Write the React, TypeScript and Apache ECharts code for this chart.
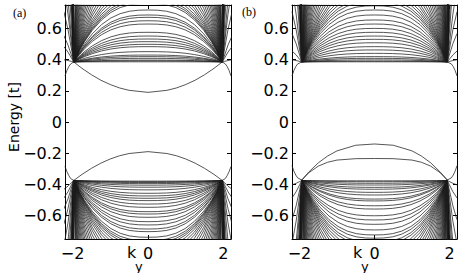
import React, { useEffect, useRef } from "react";
import * as echarts from "echarts";

// ---- axes ----
const xRange = [-2.2, 2.2];
const yRange = [-0.75, 0.75];
const xTicks = [-2, 0, 2];
const yTicks = [-0.6, -0.4, -0.2, 0, 0.2, 0.4, 0.6];

// ---- crossing points (Dirac-like touching points) ----
const kCrossA = 1.97;
const kCrossB = 1.94;
const eCrossUpper = 0.385;
const eCrossLower = -0.375;

// shape of a bulk band between its centre and the crossing (fraction of height)
const profileR = [0, 0.125, 0.25, 0.375, 0.5, 0.625, 0.75, 0.85, 0.925, 1];
const profileF = [1, 0.996, 0.976, 0.929, 0.846, 0.719, 0.54, 0.355, 0.19, 0];
// outer branch beyond crossing (offset in k, multiple of band height)
const outerD = [0.05, 0.1, 0.15, 0.26];
const outerG = [3, 6, 9, 14];

// ---- band energies at k = 0 ----
const bandsAUpper = [
  0.386, 0.392, 0.397, 0.408, 0.419, 0.429, 0.451, 0.483, 0.498, 0.515, 0.532, 0.551, 0.575,
  0.628, 0.649, 0.671, 0.686, 0.718,
  0.76, 0.775, 0.79, 0.81, 0.835, 0.86, 0.89, 0.93, 0.97, 1.02, 1.08, 1.15, 1.23, 1.32, 1.43,
  1.56, 1.72, 1.9, 2.12, 2.4, 2.75, 3.2, 3.8, 4.6, 5.6, 7.0,
];
const bandsALower = [
  -0.379, -0.383, -0.388, -0.395, -0.405, -0.418, -0.435, -0.457, -0.474, -0.489, -0.504,
  -0.526, -0.547, -0.575, -0.59, -0.611, -0.639, -0.66, -0.686, -0.703, -0.739,
  -0.76, -0.775, -0.79, -0.81, -0.835, -0.86, -0.89, -0.93, -0.97, -1.02, -1.08, -1.15, -1.23,
  -1.32, -1.43, -1.56, -1.72, -1.9, -2.12, -2.4, -2.75, -3.2, -3.8, -4.6, -5.6, -7.0,
];
const bandsBUpper = [
  0.386, 0.39, 0.398, 0.408, 0.419, 0.44, 0.462, 0.483, 0.508, 0.53, 0.551, 0.575, 0.6, 0.628,
  0.654, 0.686, 0.718, 0.745,
  0.77, 0.79, 0.815, 0.84, 0.87, 0.9, 0.94, 0.98, 1.03, 1.09, 1.16, 1.24, 1.33, 1.44, 1.57,
  1.72, 1.9, 2.1, 2.35, 2.65, 3.0, 3.45, 4.0, 4.7, 5.6, 6.8,
];
const bandsBLower = [
  -0.377, -0.383, -0.393, -0.404, -0.419, -0.431, -0.451, -0.468, -0.494, -0.506, -0.537,
  -0.558, -0.601, -0.628, -0.656, -0.692, -0.724, -0.745,
  -0.77, -0.79, -0.815, -0.84, -0.87, -0.9, -0.94, -0.98, -1.03, -1.09, -1.16, -1.24, -1.33,
  -1.44, -1.57, -1.72, -1.9, -2.1, -2.35, -2.65, -3.0, -3.45, -4.0, -4.7, -5.6, -6.8,
];

// ---- in-gap (edge) states ----
const edgeAK = [-2.2, -2.15, -2.1, -2.05, -1.97, -1.75, -1.5, -1.25, -1.0, -0.75, -0.5, 0, 0.5, 0.75, 1.0, 1.25, 1.5, 1.75, 1.97, 2.05, 2.1, 2.15, 2.2];
const edgeAUpperE = [0.295, 0.33, 0.355, 0.372, 0.385, 0.344, 0.303, 0.268, 0.24, 0.218, 0.203, 0.19, 0.203, 0.218, 0.24, 0.268, 0.303, 0.344, 0.385, 0.372, 0.355, 0.33, 0.295];
const edgeALowerE = [-0.285, -0.318, -0.343, -0.362, -0.375, -0.336, -0.297, -0.264, -0.237, -0.216, -0.202, -0.19, -0.202, -0.216, -0.237, -0.264, -0.297, -0.336, -0.375, -0.362, -0.343, -0.318, -0.285];

const edgeBOuterK = [-2.2, -2.15, -2.1, -2.05, -1.94];
const edgeBUpperOuterE = [0.295, 0.33, 0.355, 0.372, 0.385];
const edgeBLowerOuterE = [-0.28, -0.315, -0.34, -0.358, -0.372];

const edgeBArcK = [-1.94, -1.75, -1.5, -1.25, -1.0, -0.5, 0, 0.5, 1.0, 1.25, 1.5, 1.75, 1.94];
const edgeBArc1E = [-0.372, -0.32, -0.262, -0.218, -0.185, -0.149, -0.141, -0.149, -0.185, -0.218, -0.262, -0.32, -0.372];
const edgeBArc2E = [-0.372, -0.325, -0.283, -0.258, -0.244, -0.235, -0.234, -0.235, -0.244, -0.258, -0.283, -0.325, -0.372];

const LINE_COLOR = "#1e1e1e";
const LINE_W = 0.75;

function bandPoints(e0: number, kc: number, ec: number) {
  const diff = e0 - ec;
  const pts: number[][] = [];
  for (let i = outerD.length - 1; i >= 0; i--) pts.push([-(kc + outerD[i]), ec + diff * outerG[i]]);
  for (let i = profileR.length - 1; i >= 0; i--) pts.push([-profileR[i] * kc, ec + diff * profileF[i]]);
  for (let i = 1; i < profileR.length; i++) pts.push([profileR[i] * kc, ec + diff * profileF[i]]);
  for (let i = 0; i < outerD.length; i++) pts.push([kc + outerD[i], ec + diff * outerG[i]]);
  return pts;
}

function lineSeries(data: any[], gridIdx: number) {
  return {
    type: "line",
    xAxisIndex: gridIdx * 2,
    yAxisIndex: gridIdx * 2,
    data,
    showSymbol: false,
    symbol: "none",
    connectNulls: false,
    clip: true,
    silent: true,
    lineStyle: { color: LINE_COLOR, width: LINE_W },
  };
}

const fmtY = (v: number) => (Math.abs(v) < 1e-9 ? "0" : v.toFixed(1).replace("-", "\u2212"));
const fmtX = (v: number) => (v < 0 ? "\u2212" + Math.abs(v) : String(v));

const labelFont = { fontFamily: "DejaVu Sans", fontSize: 16, color: "#000" };
const frameLine = { show: true, onZero: false, lineStyle: { color: "#000", width: 1 } };

function axesFor(gridIdx: number) {
  const xs = [
    {
      type: "value", gridIndex: gridIdx, position: "bottom", min: xRange[0], max: xRange[1],
      axisLine: frameLine,
      axisTick: { show: true, inside: true, length: 4, customValues: xTicks, lineStyle: { color: "#000" } },
      axisLabel: { show: true, customValues: xTicks, formatter: fmtX, margin: 6, ...labelFont },
      splitLine: { show: false },
    },
    {
      type: "value", gridIndex: gridIdx, position: "top", min: xRange[0], max: xRange[1],
      axisLine: frameLine,
      axisTick: { show: true, inside: true, length: 4, customValues: xTicks, lineStyle: { color: "#000" } },
      axisLabel: { show: false },
      splitLine: { show: false },
    },
  ];
  const ys = [
    {
      type: "value", gridIndex: gridIdx, position: "left", min: yRange[0], max: yRange[1],
      axisLine: frameLine,
      axisTick: { show: true, inside: true, length: 4, customValues: yTicks, lineStyle: { color: "#000" } },
      axisLabel: { show: true, customValues: yTicks, formatter: fmtY, margin: 3, ...labelFont },
      splitLine: { show: false },
    },
    {
      type: "value", gridIndex: gridIdx, position: "right", min: yRange[0], max: yRange[1],
      axisLine: frameLine,
      axisTick: { show: true, inside: true, length: 4, customValues: yTicks, lineStyle: { color: "#000" } },
      axisLabel: { show: false },
      splitLine: { show: false },
    },
  ];
  return { xs, ys };
}

export default function App() {
  const ref = useRef<HTMLDivElement>(null);
  useEffect(() => {
    if (!ref.current) return;
    const chart = echarts.init(ref.current, null, { renderer: "svg" });
    const series: any[] = [];
    bandsAUpper.forEach((e) => series.push(lineSeries(bandPoints(e, kCrossA, eCrossUpper), 0)));
    bandsALower.forEach((e) => series.push(lineSeries(bandPoints(e, kCrossA, eCrossLower), 0)));
    bandsBUpper.forEach((e) => series.push(lineSeries(bandPoints(e, kCrossB, eCrossUpper), 1)));
    bandsBLower.forEach((e) => series.push(lineSeries(bandPoints(e, kCrossB, eCrossLower), 1)));
    series.push(lineSeries(edgeAK.map((k, i) => [k, edgeAUpperE[i]]), 0));
    series.push(lineSeries(edgeAK.map((k, i) => [k, edgeALowerE[i]]), 0));
    const outerPieces = (vals: number[]) => [
      ...edgeBOuterK.map((k, i) => [k, vals[i]]),
      [0, null],
      ...edgeBOuterK.map((k, i) => [-k, vals[i]]).reverse(),
    ];
    series.push(lineSeries(outerPieces(edgeBUpperOuterE), 1));
    series.push(lineSeries(outerPieces(edgeBLowerOuterE), 1));
    series.push(lineSeries(edgeBArcK.map((k, i) => [k, edgeBArc1E[i]]), 1));
    series.push(lineSeries(edgeBArcK.map((k, i) => [k, edgeBArc2E[i]]), 1));

    const a = axesFor(0);
    const b = axesFor(1);
    chart.setOption({
      animation: false,
      backgroundColor: "#fff",
      grid: [
        { left: 65, top: 5, width: 166, height: 234 },
        { left: 292, top: 5, width: 165, height: 234 },
      ],
      xAxis: [...a.xs, ...b.xs],
      yAxis: [...a.ys, ...b.ys],
      series,
      graphic: [
        { type: "text", left: 13, top: 7, style: { text: "(a)", font: "12px 'Liberation Serif'", fill: "#000" } },
        { type: "text", left: 242, top: 6, style: { text: "(b)", font: "12px 'Liberation Serif'", fill: "#000" } },
        {
          type: "text", x: 14, y: 117, rotation: Math.PI / 2,
          style: { text: "Energy [t]", font: "14px 'DejaVu Sans'", fill: "#000", align: "center", verticalAlign: "middle" },
        },
        { type: "text", left: 127, top: 244, style: { text: "k", font: "16px 'DejaVu Sans'", fill: "#000" } },
        { type: "text", left: 135, top: 260, style: { text: "y", font: "13px 'DejaVu Sans'", fill: "#000" } },
        { type: "text", left: 353, top: 244, style: { text: "k", font: "16px 'DejaVu Sans'", fill: "#000" } },
        { type: "text", left: 361, top: 260, style: { text: "y", font: "13px 'DejaVu Sans'", fill: "#000" } },
      ],
    });
    return () => chart.dispose();
  }, []);
  return (
    <div
      ref={ref}
      style={{ position: "fixed", left: 0, top: 0, width: 463, height: 273, background: "#fff" }}
    />
  );
}
